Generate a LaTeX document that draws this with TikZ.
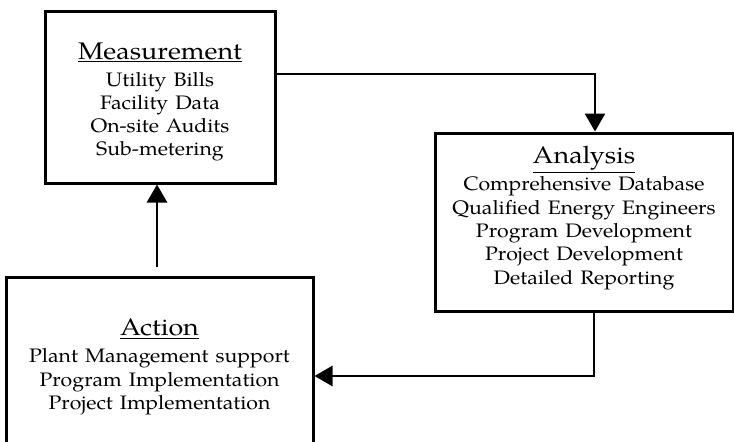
\documentclass[tikz,border=0pt]{standalone}
\usepackage{fontspec}
\setmainfont{TeX Gyre Pagella}
\newfontfamily\titlefont[FakeStretch=1.12]{TeX Gyre Pagella}
\newfontfamily\bodyfam[FakeStretch=1.09]{TeX Gyre Pagella}
\usetikzlibrary{arrows.meta}
\newcommand{\bodyfont}{\bodyfam\fontsize{19.5}{23.3}\selectfont\spaceskip=0.36em\relax}
\newcommand{\boxtitle}[1]{{\titlefont\fontsize{24}{27}\selectfont\underline{#1}}\\[3.7pt]}
\tikzset{
  box/.style={draw, line width=3pt, inner sep=0pt},
  txt/.style={align=center, inner sep=0pt, font=\bodyfont},
  conn/.style={line width=2.7pt},
  tip/.style={-{Triangle[width=20pt,length=18pt]}},
}
\begin{document}
\begin{tikzpicture}[x=1pt,y=-1pt]
\useasboundingbox (0,0) rectangle (734,442);
\clip (0,0) rectangle (734,442);
\node[box, minimum width=230pt, minimum height=172pt] (meas) at (160,97) {};
\node[txt] (measT) at (160,102)
  {\boxtitle{Measurement}Utility Bills\\Facility Data\\On-site Audits\\Sub-metering};
\node[box, minimum width=298pt, minimum height=178pt] (anal) at (584,222) {};
\node[txt] (analT) at (584,218)
  {\boxtitle{Analysis}Comprehensive Database\\Qualified Energy Engineers\\Program Development\\Project Development\\Detailed Reporting};
\node[box, minimum width=307pt, minimum height=183pt] (act) at (159.5,368.5) {};
\node[txt] (actT) at (159.5,367)
  {\boxtitle{Action}Plant Management support\\Program Implementation\\Project Implementation};
\coordinate (c1) at (595,74);
\coordinate (c2) at (594,376);
\coordinate (c3) at (157,267);
\draw[conn,tip] (meas.east |- c1) -| (anal.north -| c1);
\draw[conn,tip] (anal.south -| c2) |- (act.east |- c2);
\draw[conn,tip] (c3) -- (meas.south -| c3);
\end{tikzpicture}
\end{document}
